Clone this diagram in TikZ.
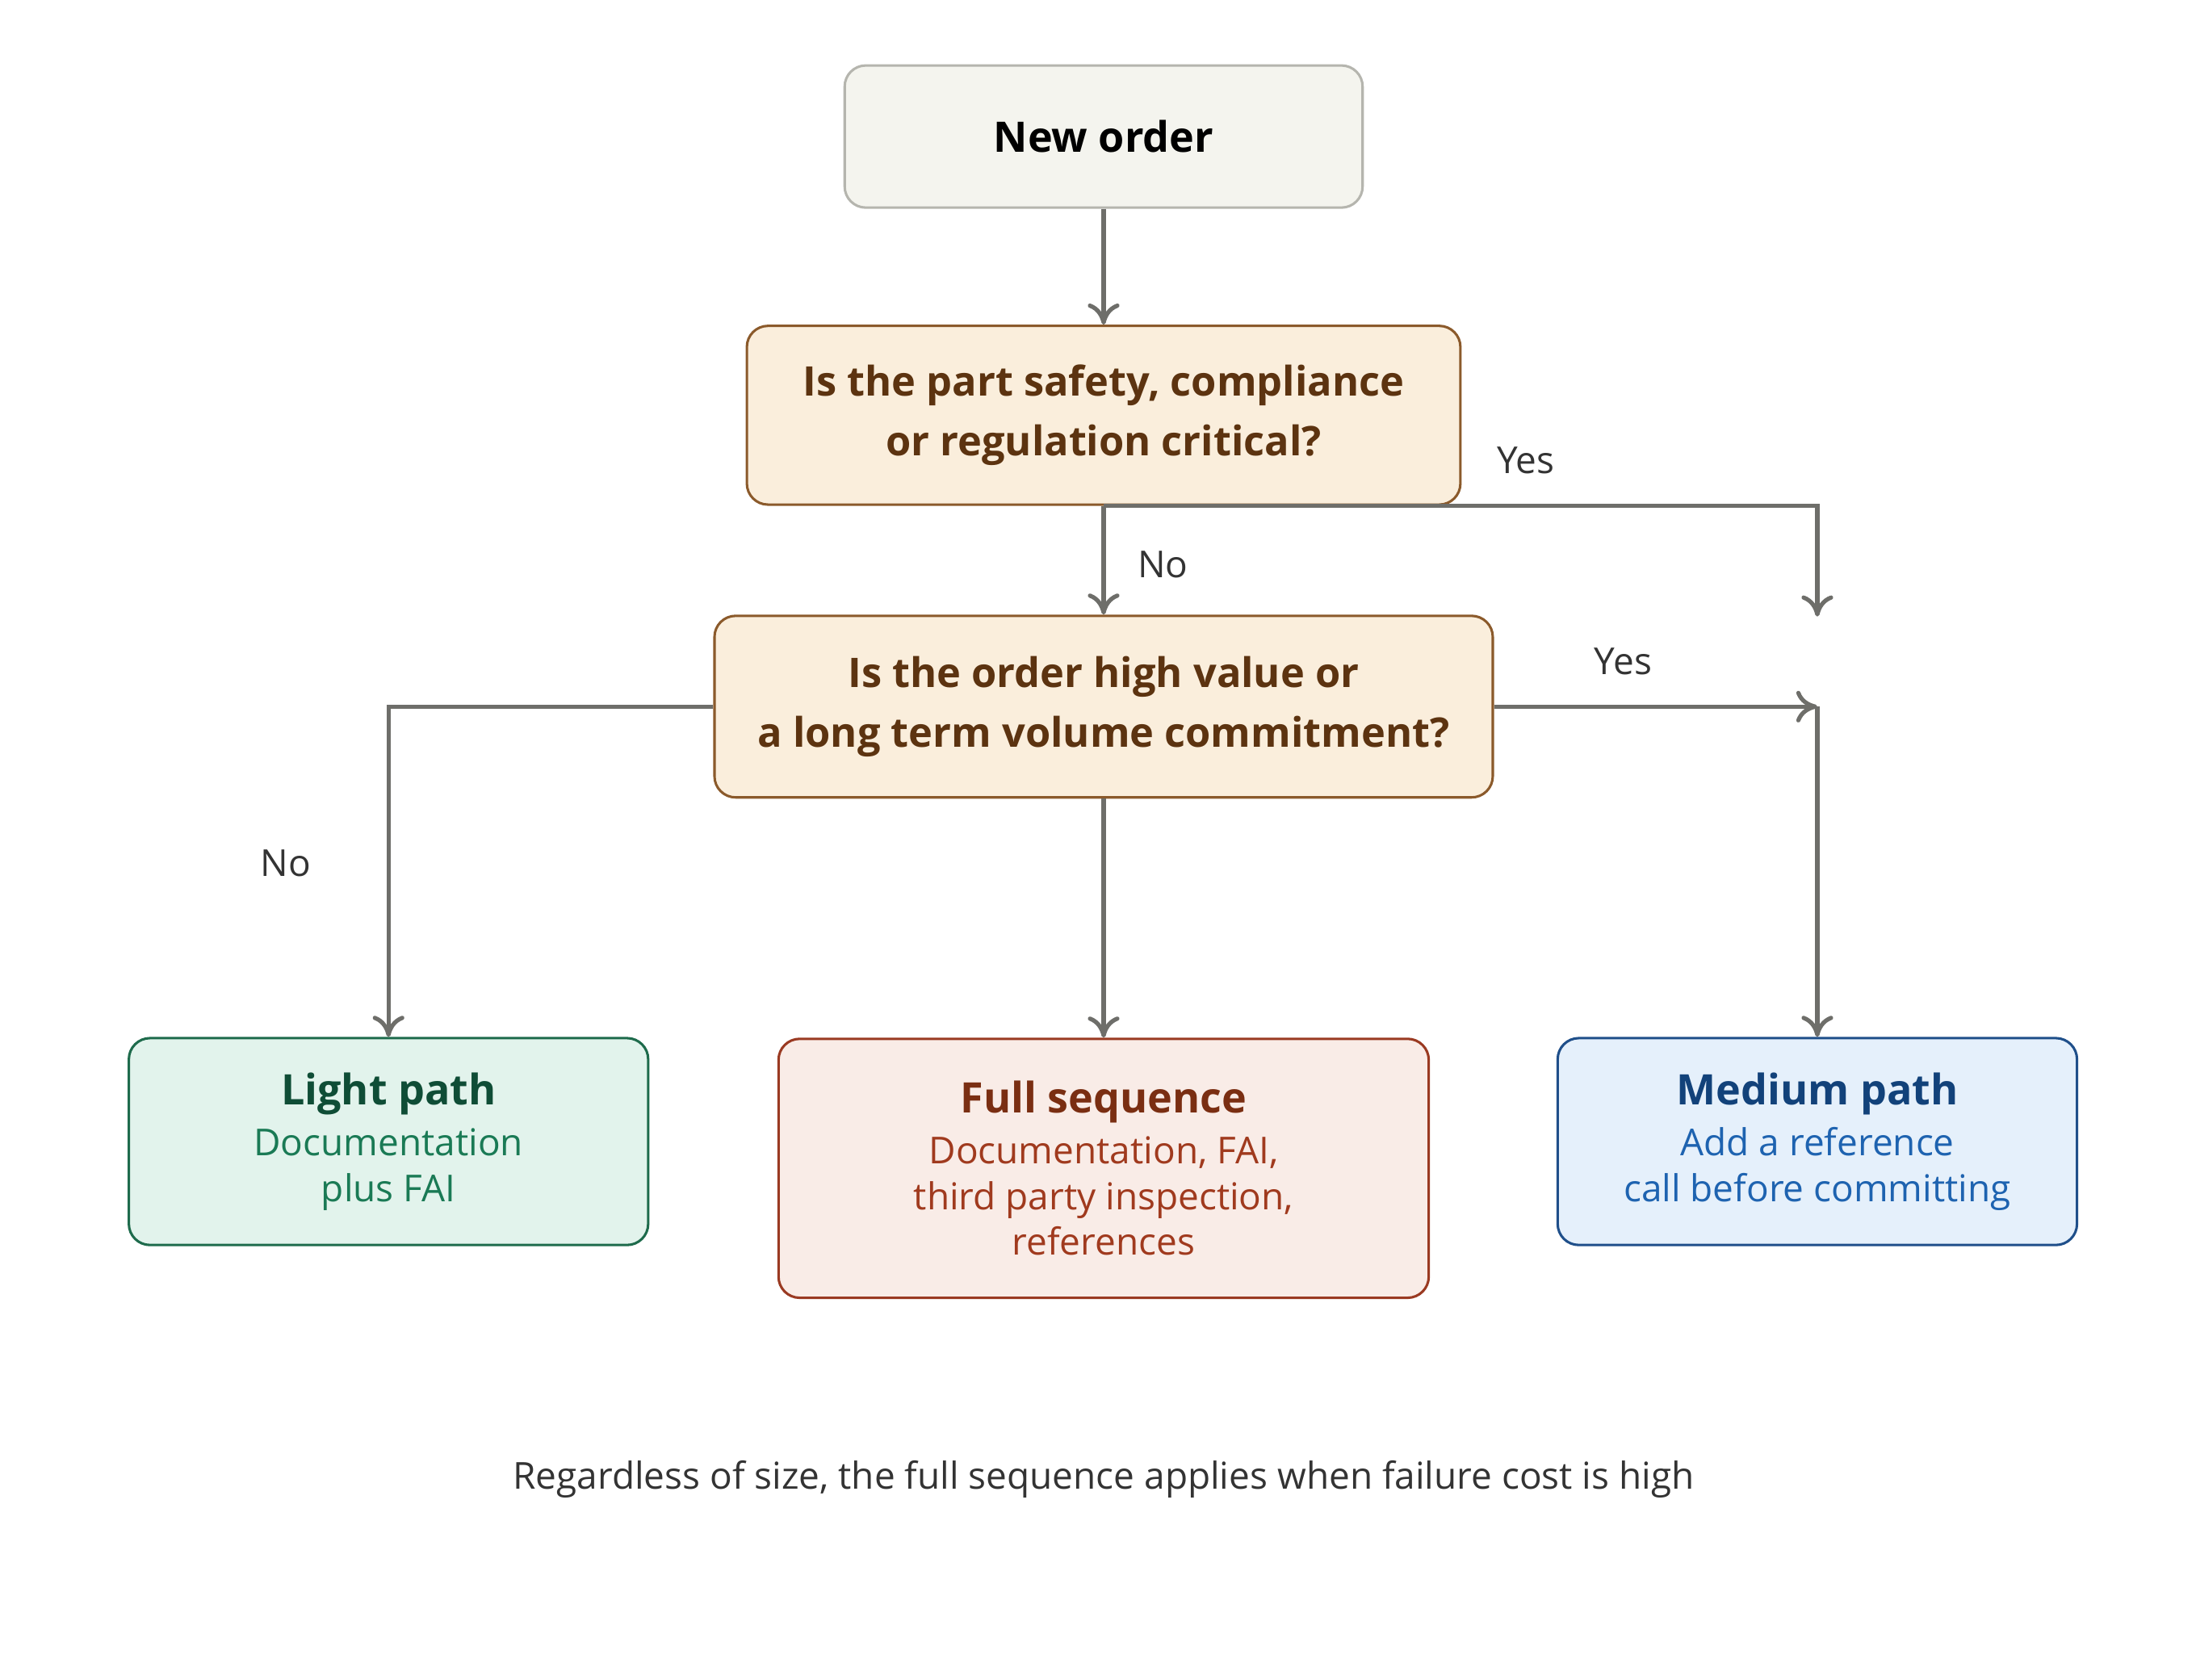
\documentclass[tikz,border=0pt]{standalone}
\usepackage{fontspec}
\setmainfont{Open Sans}
\usetikzlibrary{arrows.meta,positioning}
\definecolor{startfill}{HTML}{F4F4EE}
\definecolor{startline}{HTML}{B5B5AE}
\definecolor{askfill}{HTML}{FAEEDC}
\definecolor{askline}{HTML}{8B5A2B}
\definecolor{asktext}{HTML}{5C3310}
\definecolor{lightfill}{HTML}{E2F3EC}
\definecolor{lightline}{HTML}{1E6B4C}
\definecolor{lighthead}{HTML}{0F4D36}
\definecolor{lighttext}{HTML}{1A7A55}
\definecolor{fullfill}{HTML}{F9ECE7}
\definecolor{fullline}{HTML}{9A3A22}
\definecolor{fullhead}{HTML}{7A2E12}
\definecolor{fulltext}{HTML}{A03A1E}
\definecolor{medfill}{HTML}{E5F0FB}
\definecolor{medline}{HTML}{1F4F8A}
\definecolor{medhead}{HTML}{12427A}
\definecolor{medtext}{HTML}{1E63B0}
\definecolor{flowline}{HTML}{6E6E6A}
\definecolor{labeltext}{HTML}{333333}
\newcommand{\boxhead}[2]{\textcolor{#1}{\fontsize{17}{24}\selectfont\bfseries #2}}
\newcommand{\boxline}[2]{\textcolor{#1}{\fontsize{15}{18.5}\selectfont #2}}
\tikzset{
  box/.style={draw, rounded corners=0.3cm, line width=1pt, align=center, inner sep=0pt},
  ask/.style={box, fill=askfill, draw=askline, text=asktext, font=\fontsize{16.5}{24}\selectfont\bfseries},
  flow/.style={draw=flowline, line width=1.7pt, -{To[length=0.3cm,width=0.45cm]}},
  lbl/.style={text=labeltext, font=\fontsize{15}{18}\selectfont}
}
\begin{document}
\begin{tikzpicture}[x=0.02cm,y=-0.02cm]
\useasboundingbox (0,0) rectangle (1560,1193);
% boxes
\node[box, fill=startfill, draw=startline, minimum width=7.36cm, minimum height=2.02cm,
  font=\fontsize{17}{20}\selectfont\bfseries] (order) at (784,97) {New order};
\node[ask, minimum width=10.14cm, minimum height=2.54cm] (critical) at (784,295)
  {Is the part safety, compliance\\or regulation critical?};
\node[ask, minimum width=11.06cm, minimum height=2.58cm] (value) at (784,502)
  {Is the order high value or\\a long term volume commitment?};
\node[box, fill=lightfill, draw=lightline, minimum width=7.38cm, minimum height=2.94cm,
  font=\fontsize{15}{18.5}\selectfont] (light) at (276,811)
  {\boxhead{lighthead}{Light path}\\[2pt]
   \boxline{lighttext}{Documentation}\\\boxline{lighttext}{plus FAI}};
\node[box, fill=fullfill, draw=fullline, minimum width=9.24cm, minimum height=3.68cm,
  font=\fontsize{15}{18.5}\selectfont] (full) at (784,830)
  {\boxhead{fullhead}{Full sequence}\\[2pt]
   \boxline{fulltext}{Documentation, FAI,}\\\boxline{fulltext}{third party inspection,}\\\boxline{fulltext}{references}};
\node[box, fill=medfill, draw=medline, minimum width=7.38cm, minimum height=2.94cm,
  font=\fontsize{15}{18.5}\selectfont] (medium) at (1291,811)
  {\boxhead{medhead}{Medium path}\\[2pt]
   \boxline{medtext}{Add a reference}\\\boxline{medtext}{call before committing}};
% loose ends
\coordinate (yesend) at (1291,438);
\coordinate (join) at (1291,502);
% connectors
\draw[flow] (order) -- (critical);
\draw[flow] (critical) -- (value);
\draw[flow] (critical.south) -| (yesend);
\draw[flow] (value.east) -- (join);
\draw[flow] (join) -- (medium.north);
\draw[flow] (value.west) -| (light.north);
\draw[flow] (value) -- (full);
% labels
\node[lbl] (no1) at (826,401) {No};
\node[lbl] (yes1) at (1084,327) {Yes};
\node[lbl] (yes2) at (1153,470) {Yes};
\node[lbl] (no2) at (203,613) {No};
\node[lbl] (note) at (784,1051) {Regardless of size, the full sequence applies when failure cost is high};
\end{tikzpicture}
\end{document}
